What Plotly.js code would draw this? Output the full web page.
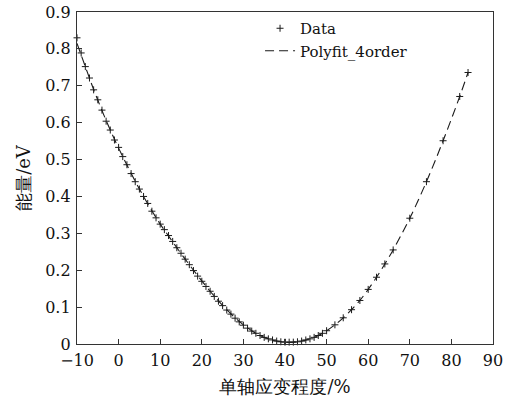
<!DOCTYPE html>
<html>
<head>
<meta charset="utf-8">
<script src="https://cdn.plot.ly/plotly-3.0.1.min.js"></script>
<style>html,body{margin:0;padding:0;background:#fff;}#chart{width:505px;height:405px;}</style>
</head>
<body>
<div id="chart"></div>
<script>
// Data points (uniaxial strain %, energy eV)
const strainData = [-10,-9,-8,-7,-6,-5,-4,-3,-2,-1,0,1,2,3,4,5,6,7,8,9,10,11,12,13,14,15,16,17,18,19,20,21,22,23,24,25,26,27,28,29,30,31,32,33,34,35,36,37,38,39,40,41,42,43,44,45,46,47,48,49,50,52,54,56,58,60,62,64,66,70,74,78,82,84];
const energyData = [0.830,0.789,0.752,0.721,0.689,0.662,0.634,0.604,0.580,0.553,0.533,0.508,0.486,0.462,0.440,0.420,0.400,0.381,0.360,0.342,0.325,0.310,0.294,0.278,0.261,0.246,0.230,0.215,0.199,0.184,0.170,0.156,0.143,0.129,0.116,0.104,0.092,0.081,0.070,0.060,0.051,0.043,0.035,0.029,0.023,0.018,0.014,0.011,0.008,0.006,0.005,0.005,0.005,0.006,0.008,0.011,0.014,0.018,0.023,0.029,0.036,0.052,0.071,0.093,0.118,0.148,0.181,0.217,0.255,0.341,0.440,0.551,0.671,0.736];

// 4th-order polynomial fit curve
const strainFit = [-10,-8,-6,-4,-2,0,2,4,6,8,10,12,14,16,18,20,22,24,26,28,30,32,34,36,38,40,42,44,46,48,50,52,54,56,58,60,62,64,66,68,70,72,74,76,78,80,82,84];
const energyFit = [0.815,0.752,0.690,0.633,0.580,0.531,0.485,0.441,0.400,0.361,0.325,0.293,0.261,0.230,0.200,0.171,0.143,0.117,0.093,0.071,0.052,0.036,0.023,0.014,0.008,0.005,0.005,0.008,0.014,0.023,0.036,0.052,0.071,0.093,0.118,0.148,0.181,0.217,0.255,0.297,0.341,0.389,0.440,0.494,0.551,0.610,0.671,0.736];

const xTicks = [-10,0,10,20,30,40,50,60,70,80,90];
const yTicks = [0,0.1,0.2,0.3,0.4,0.5,0.6,0.7,0.8,0.9];

const FAM = 'DejaVu Serif';

const traces = [
  {
    x: strainData, y: energyData, type: 'scatter', mode: 'markers', name: 'Data', cliponaxis: false,
    marker: {symbol: 'cross-thin', size: 5, color: '#1a1a1a', line: {color: '#1a1a1a', width: 1}}
  },
  {
    x: strainFit, y: energyFit, type: 'scatter', mode: 'lines', name: 'Polyfit_4order',
    line: {color: '#1a1a1a', width: 1.1, dash: '9px,5px', shape: 'spline'}
  }
];

const layout = {
  width: 505, height: 405,
  font: {family: FAM, size: 16, color: '#111'},
  margin: {l: 77, r: 12, t: 12, b: 61},
  paper_bgcolor: '#fff', plot_bgcolor: '#fff',
  showlegend: true,
  legend: {x: 0.44, y: 1.0, xanchor: 'left', yanchor: 'top', bgcolor: 'rgba(0,0,0,0)',
           font: {family: FAM, size: 15, color: '#111'}, tracegroupgap: 0, itemwidth: 30},
  xaxis: {
    showline: true, linecolor: '#333', linewidth: 1.2, mirror: true,
    ticks: 'inside', ticklen: 5, tickcolor: '#333', tickwidth: 1.2,
    showgrid: false, zeroline: false,
    tickfont: {family: FAM, size: 16, color: '#111'},
    range: [-10, 90], tickvals: xTicks, ticktext: xTicks.map(v => v < 0 ? '\u2212' + Math.abs(v) : String(v)),
    ticklabelstandoff: 2,
    title: {text: '单轴应变程度/%', font: {family: FAM, size: 18, color: '#111'}, standoff: 11}
  },
  yaxis: {
    showline: true, linecolor: '#333', linewidth: 1.2, mirror: true,
    ticks: 'inside', ticklen: 5, tickcolor: '#333', tickwidth: 1.2,
    showgrid: false, zeroline: false,
    tickfont: {family: FAM, size: 16, color: '#111'},
    range: [0, 0.9], tickvals: yTicks, ticktext: yTicks.map(v => String(v)),
    ticklabelstandoff: 2,
    title: {text: '能量/eV', font: {family: FAM, size: 18, color: '#111'}, standoff: 9}
  }
};

Plotly.newPlot('chart', traces, layout, {displayModeBar: false, staticPlot: true});
</script>
</body>
</html>
